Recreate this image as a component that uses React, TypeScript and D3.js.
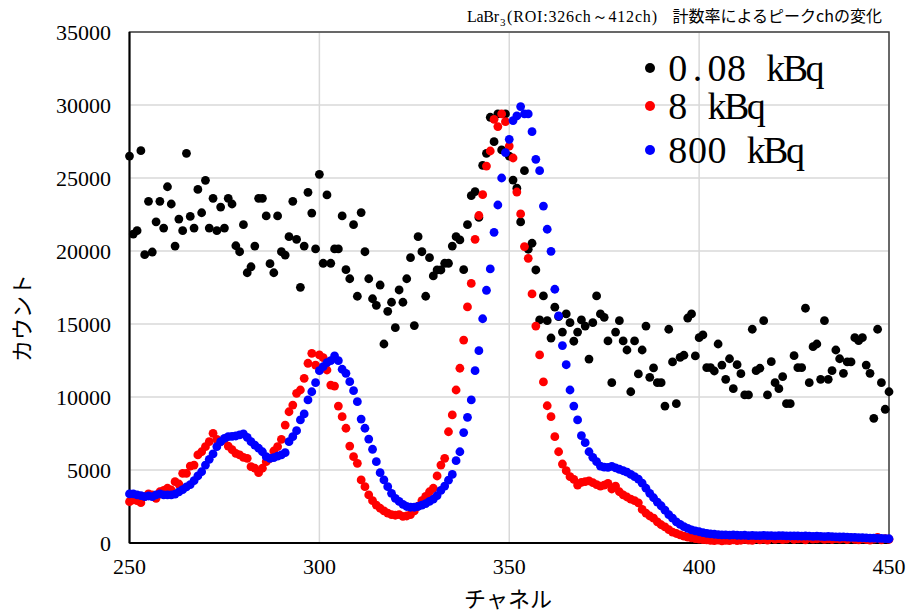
import React from "react";
import * as d3 from "d3";

const startChannel = 250;
const endChannel = 450;
const channels = d3.range(startChannel, endChannel + 1);

const seriesNames = ["0.08 kBq", "8 kBq", "800 kBq"];
const seriesColors = ["#000000", "#ff0000", "#0000ff"];

const counts008 = [
  26500, 21160, 21390, 26870, 19750, 23400, 19930, 22000, 23400, 21570,
  24400, 23220, 20340, 22190, 21390, 26690, 22370, 21570, 24220, 22620,
  24840, 21570, 23610, 21390, 23010, 21570, 23610, 23220, 20360, 19950,
  21800, 18510, 18920, 20340, 23610, 23610, 22400, 19130, 18510, 22400,
  19950, 19720, 20980, 23400, 20800, 17510, 20340, 24020, 22600, 20140,
  25250, 19160, 23840, 19160, 20140, 20140, 22400, 18720, 18100, 21800,
  16900, 22630, 19950, 18100, 16730, 16280, 17670, 13630, 15870, 16490,
  14750, 17330, 16490, 18100, 19540, 14890, 20980, 19950, 16900, 19540,
  18290, 18700, 18700, 19160, 19160, 20340, 20980, 20760, 18720, 21800,
  23790, 24060, 22300, 25870, 26690, 29160, 27490, 29390, 26920, 29390,
  26500, 24860, 24300, 21990, 25500, 20120, 20530, 18700, 15280, 16920,
  15230, 14040, 16150, 15500, 14450, 15690, 15090, 13820, 14450, 15280,
  14860, 12600, 15090, 16920, 15690, 15460, 13840, 10980, 14450, 15230,
  13840, 13220, 10360, 13840, 11580, 13220, 14860, 11350, 11990, 10980,
  10980, 9380, 14640, 12400, 9540, 12720, 12860, 15410, 15690, 12810,
  14060, 14250, 12010, 12010, 11780, 13630, 12190, 11210, 12620, 10570,
  12210, 11600, 10140, 10140, 14640, 11800, 11970, 15230, 10140, 12420,
  10980, 10570, 11390, 9540, 9540, 12830, 12010, 12010, 16080, 10980,
  13450, 13630, 11210, 15230, 11210, 11800, 13220, 12620, 11620, 12400,
  12400, 14060, 13860, 14060, 12190, 11620, 8540, 14640, 10980, 9160,
  10360,
];

const counts8 = [
  2830, 2950, 2900, 2760, 3170, 3360, 3300, 3060, 3510, 3600,
  3750, 3630, 4200, 4040, 4770, 4770, 5270, 5340, 6030, 6250,
  6600, 6940, 7510, 7100, 6940, 7100, 6640, 6400, 6140, 6030,
  5870, 5800, 5230, 5120, 4820, 5120, 5570, 5800, 6300, 6600,
  7100, 8080, 8990, 9450, 10250, 10480, 11280, 12310, 12990, 12190,
  12880, 12700, 11850, 10820, 10750, 9380, 8650, 7860, 6640, 5910,
  5460, 4320, 3860, 3290, 2900, 2600, 2380, 2200, 2050, 1950,
  1900, 1950, 1820, 1850, 1950, 2200, 2530, 2900, 3200, 3510,
  3750, 4590, 5340, 5800, 7620, 8770, 10480, 11970, 13900, 16170,
  17780, 20800, 22430, 23860, 25820, 26850, 29020, 28520, 29390, 28860,
  27190, 26370, 24040, 22540, 20300, 19500, 17060, 14860, 12880, 11030,
  9400, 8650, 7280, 6250, 5410, 4950, 4540, 4360, 3970, 4150,
  4200, 4250, 4130, 4000, 3900, 3970, 4080, 3700, 3900, 3510,
  3300, 3150, 3000, 2900, 2750, 2300, 2050, 1850, 1700, 1450,
  1250, 1100, 920, 750, 650, 550, 470, 400, 350, 300,
  260, 230, 210, 180, 170, 200, 150, 180, 160, 220,
  170, 190, 250, 200, 180, 300, 220, 260, 200, 380,
  250, 300, 230, 260, 400, 240, 280, 320, 220, 350,
  260, 290, 330, 250, 280, 240, 300, 260, 320, 230,
  350, 250, 220, 280, 240, 200, 260, 380, 220, 300,
  250,
];

const counts800 = [
  3360, 3360, 3300, 3250, 3170, 3220, 3170, 3290, 3360, 3290,
  3290, 3290, 3350, 3500, 3650, 3850, 4000, 4270, 4590, 4880,
  5340, 5730, 6100, 6600, 6940, 7170, 7280, 7300, 7330, 7400,
  7470, 7240, 6940, 6710, 6490, 6250, 5910, 5800, 5850, 5950,
  6030, 6190, 6940, 7280, 7690, 8430, 8840, 9800, 10360, 10980,
  11800, 12080, 12350, 12490, 12810, 12490, 11900, 11620, 11050, 10430,
  9680, 8490, 7860, 7120, 6420, 5570, 4820, 4320, 3860, 3400,
  3060, 2850, 2650, 2500, 2450, 2450, 2500, 2600, 2700, 2850,
  3000, 3250, 3600, 3900, 4300, 4700, 5640, 6250, 7560, 8610,
  9800, 11800, 13170, 15360, 17310, 18770, 21280, 23150, 25000, 26740,
  27650, 28930, 29250, 29890, 29390, 29390, 28170, 26280, 25500, 23080,
  21490, 19980, 17380, 15550, 13520, 12210, 10480, 9380, 8430, 7350,
  6870, 6250, 5870, 5570, 5270, 5200, 5180, 5250, 5150, 5050,
  4950, 4850, 4700, 4550, 4380, 4100, 3750, 3400, 3100, 2800,
  2550, 2250, 1950, 1700, 1450, 1270, 1120, 1000, 900, 830,
  770, 710, 660, 630, 600, 580, 560, 550, 540, 550,
  530, 520, 530, 510, 520, 510, 500, 520, 510, 500,
  490, 510, 500, 490, 480, 490, 480, 470, 480, 470,
  460, 470, 450, 440, 450, 430, 420, 410, 420, 400,
  390, 380, 370, 360, 350, 340, 330, 320, 310, 300,
  290,
];

const xTicks = [250, 300, 350, 400, 450];
const yTicks = [0, 5000, 10000, 15000, 20000, 25000, 30000, 35000];

const titleLead = "LaBr";
const titleSub = "3";
const titleRoi = "(ROI:326ch～412ch)";
const titleText = "計数率によるピークchの変化";
const xTitle = "チャネル";
const yTitle = "カウント";

const W = 909;
const H = 615;
const plot = { left: 129.5, right: 889, top: 32, bottom: 543 };

export default function App() {
  const x = d3.scaleLinear().domain([250, 450]).range([plot.left, plot.right]);
  const y = d3.scaleLinear().domain([0, 35000]).range([plot.bottom, plot.top]);
  const allSeries = [counts008, counts8, counts800];
  const serif = "'Liberation Serif', 'DejaVu Serif', serif";
  const cjk = "'Noto Sans CJK JP', 'Noto Sans', sans-serif";

  const legendX = 668;
  const advance = 19.6;
  const legendYs = [68, 106, 150];

  return (
    <svg
      width={W}
      height={H}
      viewBox={`0 0 ${W} ${H}`}
      style={{ position: "absolute", left: 0, top: 0, display: "block", background: "#fff" }}
    >
      <rect x={0} y={0} width={W} height={H} fill="#ffffff" />
      {yTicks.map((t) => (
        <line key={"gy" + t} x1={plot.left} x2={plot.right} y1={y(t)} y2={y(t)} stroke="#d9d9d9" strokeWidth={1.5} />
      ))}
      {xTicks.map((t) => (
        <line key={"gx" + t} x1={x(t)} x2={x(t)} y1={plot.top} y2={plot.bottom} stroke="#d9d9d9" strokeWidth={1.5} />
      ))}
      <rect x={plot.left} y={plot.top} width={plot.right - plot.left} height={plot.bottom - plot.top} fill="none" stroke="#404040" strokeWidth={1.5} />
      <line x1={plot.left} x2={plot.left} y1={plot.top} y2={plot.bottom} stroke="#000" strokeWidth={2} />
      <line x1={plot.left} x2={plot.right} y1={plot.bottom} y2={plot.bottom} stroke="#000" strokeWidth={2} />

      {allSeries.map((vals, si) => (
        <g key={"s" + si} fill={seriesColors[si]}>
          {vals.map((v, i) => (
            <circle key={i} cx={x(channels[i])} cy={y(v)} r={4.4} />
          ))}
        </g>
      ))}

      {yTicks.map((t) => (
        <text key={"ly" + t} x={111} y={y(t)} dy="0.35em" textAnchor="end" fontFamily={serif} fontSize={22} fill="#000">
          {t}
        </text>
      ))}
      {xTicks.map((t) => (
        <text key={"lx" + t} x={x(t)} y={574} textAnchor="middle" fontFamily={serif} fontSize={22} fill="#000">
          {t}
        </text>
      ))}

      <text x={508} y={607} textAnchor="middle" fontFamily={cjk} fontSize={22} fill="#000">
        {xTitle}
      </text>
      <text transform={`translate(30,318) rotate(-90)`} textAnchor="middle" fontFamily={cjk} fontSize={22} fill="#000">
        {yTitle}
      </text>

      <text x={467} y={22} fontSize={16} fill="#000" fontFamily={serif} textLength={32} lengthAdjust="spacing">
        {titleLead}
      </text>
      <text x={500} y={26} fontSize={11} fill="#000" fontFamily={serif}>
        {titleSub}
      </text>
      <text x={507} y={22} fontSize={16} fill="#000" fontFamily={serif} textLength={150} lengthAdjust="spacing">
        {titleRoi}
      </text>
      <text x={882} y={22} textAnchor="end" fontSize={16} fill="#000" fontFamily={cjk}>
        {titleText}
      </text>

      {seriesNames.map((name, i) => {
        const chars = name.split("");
        const xs = chars.map((_, k) => legendX + advance * k + advance / 2).join(" ");
        return (
          <g key={"lg" + i}>
            <circle cx={650} cy={legendYs[i]} r={5} fill={seriesColors[i]} />
            <text x={xs} y={legendYs[i] + 13} textAnchor="middle" fontFamily={serif} fontSize={38} fill="#000">
              {name}
            </text>
          </g>
        );
      })}
    </svg>
  );
}
